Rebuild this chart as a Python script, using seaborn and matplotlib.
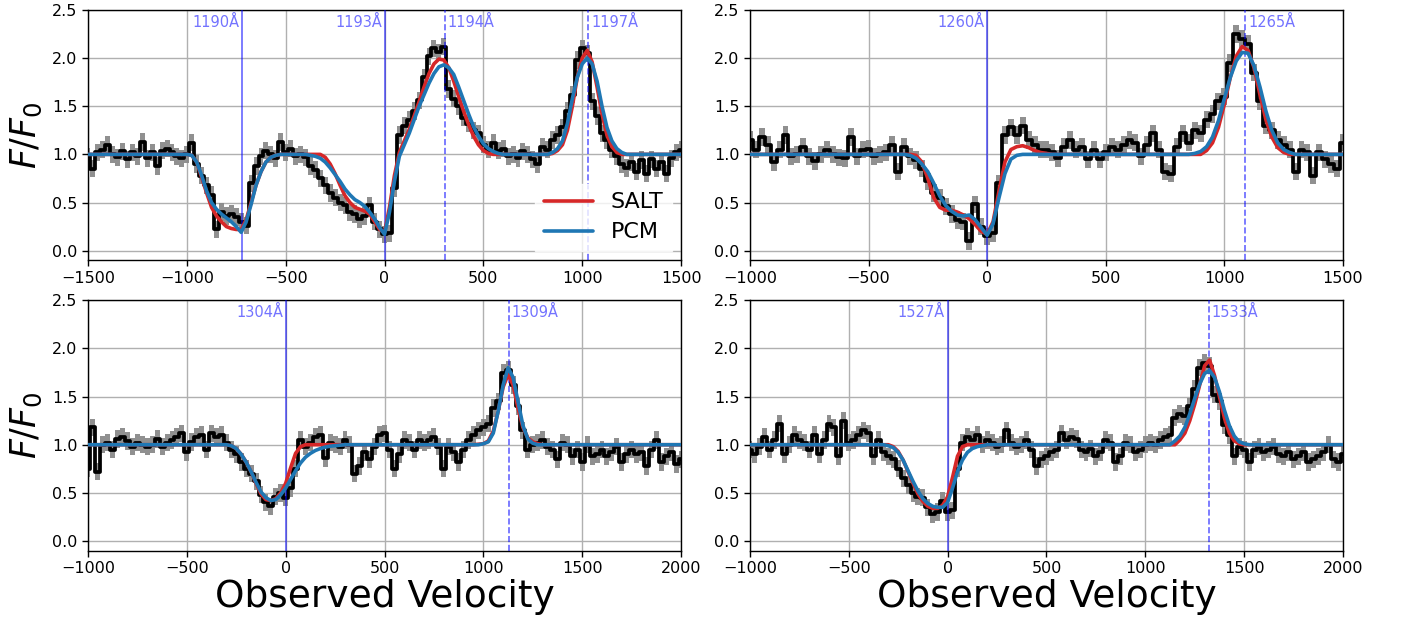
import numpy as np
import matplotlib
matplotlib.use("Agg")
import matplotlib.pyplot as plt
import seaborn as sns

# ---------------- data ----------------
BIN = 25  # km/s spacing of the spectral bins

# Top-left: Si II 1190/1193 (velocity grid starts at -1500)
tl_start = -1500
tl_flux = [0.98, 0.85, 1.02, 1.05, 1.10, 1.00, 0.97, 1.03, 0.95, 1.02,
           0.98, 1.13, 0.96, 1.02, 0.88, 1.04, 1.06, 1.02, 0.98, 0.96,
           1.00, 1.12, 0.90, 0.78, 0.68, 0.58, 0.22, 0.40, 0.36, 0.38,
           0.35, 0.30, 0.26, 0.70, 0.88, 0.98, 1.04, 1.00, 0.96, 1.13,
           1.02, 1.06, 0.98, 1.00, 0.97, 0.88, 0.84, 0.75, 0.68, 0.60,
           0.55, 0.50, 0.47, 0.40, 0.38, 0.33, 0.36, 0.47, 0.30, 0.22,
           0.17, 0.18, 0.65, 1.20, 1.30, 1.36, 1.45, 1.56, 1.80, 2.02,
           2.10, 2.06, 2.12, 1.68, 1.58, 1.50, 1.38, 1.32, 1.25, 1.22,
           1.10, 1.05, 1.12, 1.04, 1.06, 0.98, 1.00, 0.96, 1.03, 1.00,
           0.95, 0.90, 1.08, 1.05, 1.15, 1.20, 1.28, 1.45, 1.62, 1.98,
           2.10, 2.05, 1.55, 1.40, 1.22, 1.15, 1.05, 0.98, 0.90, 0.86,
           0.92, 0.82, 0.94, 0.80, 0.95, 0.85, 0.92, 0.80, 0.96, 1.02,
           1.05]
tl_err = 0.09
tl_salt = [(-1500, 1.0), (-1000, 1.0), (-975, 0.99), (-950, 0.92), (-925, 0.76),
           (-900, 0.60), (-875, 0.45), (-850, 0.36), (-825, 0.30), (-800, 0.25),
           (-775, 0.23), (-750, 0.22), (-725, 0.22), (-700, 0.32), (-675, 0.50),
           (-650, 0.68), (-625, 0.82), (-600, 0.92), (-575, 0.97), (-550, 0.99),
           (-525, 1.0), (-325, 1.0), (-300, 0.97), (-275, 0.90), (-250, 0.80),
           (-225, 0.68), (-200, 0.57), (-175, 0.50), (-150, 0.45), (-125, 0.43),
           (-100, 0.41), (-75, 0.38), (-50, 0.30), (-25, 0.22), (0, 0.19),
           (25, 0.45), (50, 0.78), (75, 1.02), (100, 1.14), (125, 1.26),
           (150, 1.40), (175, 1.55), (200, 1.70), (225, 1.84), (250, 1.94),
           (275, 1.99), (300, 1.98), (325, 1.90), (350, 1.76), (375, 1.60),
           (400, 1.45), (425, 1.31), (450, 1.19), (475, 1.10), (500, 1.04),
           (525, 1.01), (550, 1.0), (825, 1.0), (850, 1.01), (875, 1.04),
           (900, 1.10), (925, 1.25), (950, 1.50), (975, 1.80), (1000, 2.00),
           (1025, 2.08), (1050, 1.96), (1075, 1.70), (1100, 1.42), (1125, 1.20),
           (1150, 1.08), (1175, 1.02), (1200, 1.0), (1500, 1.0)]
tl_pcm = [(-1500, 1.0), (-1000, 1.0), (-975, 0.99), (-950, 0.92), (-925, 0.78),
          (-900, 0.62), (-875, 0.50), (-850, 0.43), (-825, 0.38), (-800, 0.34),
          (-775, 0.30), (-750, 0.25), (-725, 0.19), (-700, 0.30), (-675, 0.48),
          (-650, 0.68), (-625, 0.82), (-600, 0.92), (-575, 0.97), (-550, 0.99),
          (-525, 1.0), (-400, 1.0), (-375, 0.99), (-350, 0.98), (-325, 0.96),
          (-300, 0.92), (-275, 0.86), (-250, 0.79), (-225, 0.72), (-200, 0.64),
          (-175, 0.58), (-150, 0.53), (-125, 0.50), (-100, 0.46), (-75, 0.40),
          (-50, 0.33), (-25, 0.24), (0, 0.17), (25, 0.40), (50, 0.72),
          (75, 0.98), (100, 1.10), (125, 1.22), (150, 1.36), (175, 1.50),
          (200, 1.62), (225, 1.74), (250, 1.84), (275, 1.91), (300, 1.93),
          (325, 1.90), (350, 1.83), (375, 1.70), (400, 1.56), (425, 1.42),
          (450, 1.29), (475, 1.19), (500, 1.11), (525, 1.06), (550, 1.03),
          (575, 1.01), (600, 1.0), (825, 1.0), (850, 1.02), (875, 1.06),
          (900, 1.14), (925, 1.32), (950, 1.58), (975, 1.80), (1000, 1.94),
          (1025, 2.00), (1050, 1.94), (1075, 1.76), (1100, 1.50), (1125, 1.28),
          (1150, 1.14), (1175, 1.06), (1200, 1.02), (1225, 1.0), (1500, 1.0)]
tl_lines = [-722, 0, 304, 1031]
tl_labels = ["1190Å", "1193Å", "1194Å", "1197Å"]
tl_dashed = [False, False, True, True]

# Top-right: Si II 1260 (grid starts at -1000)
tr_start = -1000
tr_flux = [1.15, 1.05, 1.18, 1.10, 0.92, 1.05, 1.20, 0.98, 1.00, 1.08,
           0.98, 0.93, 1.00, 1.05, 1.00, 0.97, 0.96, 1.18, 0.98, 1.05,
           1.06, 0.98, 1.00, 1.02, 1.10, 0.82, 1.08, 0.98, 0.94, 0.85,
           0.72, 0.60, 0.55, 0.46, 0.38, 0.32, 0.30, 0.10, 0.48, 0.25,
           0.15, 0.18, 0.70, 1.20, 1.28, 1.20, 1.30, 1.15, 1.10, 1.05,
           1.05, 1.02, 0.96, 1.08, 1.15, 1.05, 1.08, 0.95, 1.05, 0.95,
           1.02, 1.08, 1.05, 1.10, 1.15, 1.12, 0.98, 1.10, 1.22, 1.05,
           0.82, 0.80, 1.08, 1.22, 1.12, 1.25, 1.22, 1.36, 1.42, 1.55,
           1.60, 1.95, 2.25, 2.20, 2.15, 1.85, 1.55, 1.30, 1.25, 1.15,
           1.10, 1.05, 0.82, 1.05, 1.02, 0.78, 1.02, 0.95, 0.90, 0.85,
           1.12]
tr_err = 0.09
tr_salt = [(-1000, 1.0), (-325, 1.0), (-300, 0.99), (-275, 0.92), (-250, 0.75),
           (-225, 0.55), (-200, 0.45), (-175, 0.42), (-150, 0.42), (-125, 0.40),
           (-100, 0.37), (-75, 0.33), (-50, 0.27), (-25, 0.20), (0, 0.17),
           (25, 0.30), (50, 0.62), (75, 0.92), (100, 1.05), (125, 1.08),
           (150, 1.09), (175, 1.07), (200, 1.04), (225, 1.02), (250, 1.01),
           (275, 1.0), (900, 1.0), (925, 1.04), (950, 1.12), (975, 1.28),
           (1000, 1.52), (1025, 1.80), (1050, 2.02), (1075, 2.12), (1100, 2.08),
           (1125, 1.90), (1150, 1.62), (1175, 1.36), (1200, 1.18), (1225, 1.07),
           (1250, 1.02), (1275, 1.0), (1500, 1.0)]
tr_pcm = [(-1000, 1.0), (-350, 1.0), (-325, 0.99), (-300, 0.96), (-275, 0.90),
          (-250, 0.82), (-225, 0.70), (-200, 0.57), (-175, 0.47), (-150, 0.41),
          (-125, 0.37), (-100, 0.36), (-75, 0.37), (-50, 0.32), (-25, 0.24),
          (0, 0.16), (25, 0.28), (50, 0.55), (75, 0.80), (100, 0.95),
          (125, 0.99), (150, 1.0), (850, 1.0), (875, 1.01), (900, 1.03),
          (925, 1.08), (950, 1.18), (975, 1.35), (1000, 1.58), (1025, 1.80),
          (1050, 1.97), (1075, 2.06), (1100, 2.05), (1125, 1.92), (1150, 1.70),
          (1175, 1.45), (1200, 1.25), (1225, 1.12), (1250, 1.05), (1275, 1.02),
          (1300, 1.0), (1500, 1.0)]
tr_lines = [0, 1089]
tr_labels = ["1260Å", "1265Å"]
tr_dashed = [False, True]

# Bottom-left: Si II 1304 (grid starts at -1000)
bl_start = -1000
bl_flux = [0.75, 1.18, 0.72, 1.00, 1.02, 0.95, 1.06, 1.08, 1.04, 0.98,
           1.02, 1.00, 0.98, 1.00, 1.06, 0.98, 1.02, 1.05, 1.08, 1.12,
           0.92, 1.03, 1.08, 1.10, 0.95, 1.12, 1.08, 1.10, 1.02, 0.95,
           0.90, 0.82, 0.75, 0.70, 0.62, 0.48, 0.40, 0.36, 0.46, 0.50,
           0.45, 0.55, 0.75, 1.05, 0.98, 1.02, 1.08, 1.10, 0.86, 1.02,
           1.00, 0.98, 1.05, 1.00, 0.70, 0.78, 0.92, 0.85, 0.98, 1.10,
           1.12, 0.95, 0.75, 0.90, 1.05, 1.02, 0.95, 1.05, 1.02, 1.05,
           1.08, 0.98, 0.75, 0.98, 0.92, 0.82, 0.95, 1.05, 1.10, 1.15,
           1.18, 1.22, 1.38, 1.45, 1.75, 1.78, 1.62, 1.40, 1.15, 0.95,
           1.00, 1.02, 1.05, 0.98, 0.95, 0.85, 1.02, 1.00, 0.88, 0.95,
           0.82, 1.00, 0.88, 0.90, 0.95, 0.88, 0.92, 0.98, 0.82, 0.90,
           0.95, 0.90, 0.92, 0.78, 0.95, 1.05, 0.82, 0.88, 0.92, 0.80,
           0.85]
bl_err = 0.09
bl_salt = [(-1000, 1.0), (-300, 1.0), (-275, 0.99), (-250, 0.96), (-225, 0.90),
           (-200, 0.82), (-175, 0.72), (-150, 0.60), (-125, 0.49), (-100, 0.43),
           (-75, 0.42), (-50, 0.44), (-25, 0.50), (0, 0.60), (25, 0.76),
           (50, 0.91), (75, 0.98), (100, 1.0), (950, 1.0), (975, 1.005),
           (1000, 1.01), (1025, 1.04), (1050, 1.14), (1075, 1.35), (1100, 1.60),
           (1125, 1.73), (1150, 1.62), (1175, 1.38), (1200, 1.18), (1225, 1.07),
           (1250, 1.03), (1275, 1.01), (1300, 1.0), (2000, 1.0)]
bl_pcm = [(-1000, 1.0), (-300, 1.0), (-275, 0.99), (-250, 0.96), (-225, 0.90),
          (-200, 0.82), (-175, 0.72), (-150, 0.61), (-125, 0.51), (-100, 0.45),
          (-75, 0.42), (-50, 0.43), (-25, 0.48), (0, 0.55), (25, 0.64),
          (50, 0.73), (75, 0.81), (100, 0.87), (125, 0.91), (150, 0.94),
          (175, 0.96), (200, 0.975), (225, 0.985), (250, 0.99), (275, 0.995),
          (300, 1.0), (975, 1.0), (1000, 1.01), (1025, 1.03), (1050, 1.12),
          (1075, 1.35), (1100, 1.62), (1125, 1.80), (1150, 1.70), (1175, 1.45),
          (1200, 1.20), (1225, 1.06), (1250, 1.015), (1275, 1.0), (2000, 1.0)]
bl_lines = [0, 1128]
bl_labels = ["1304Å", "1309Å"]
bl_dashed = [False, True]

# Bottom-right: Si II 1527 (grid starts at -1000)
br_start = -1000
br_flux = [0.95, 0.90, 0.98, 1.08, 0.95, 1.05, 1.22, 0.90, 1.00, 1.10,
           1.05, 1.02, 0.95, 1.10, 0.90, 1.05, 1.22, 1.18, 0.88, 1.25,
           1.02, 1.05, 1.10, 1.15, 1.12, 0.88, 1.05, 0.92, 0.88, 0.85,
           0.75, 0.65, 0.58, 0.50, 0.46, 0.45, 0.35, 0.28, 0.30, 0.42,
           0.30, 0.32, 0.75, 1.02, 1.08, 1.05, 1.10, 1.00, 1.05, 1.02,
           0.98, 1.00, 1.15, 1.02, 0.98, 1.00, 1.05, 0.95, 0.78, 0.85,
           0.88, 0.92, 0.95, 1.12, 1.05, 1.08, 1.06, 0.95, 0.92, 0.96,
           0.88, 0.92, 1.05, 1.02, 0.82, 0.88, 1.02, 1.00, 0.92, 0.95,
           1.00, 1.02, 1.00, 1.05, 1.08, 1.10, 1.28, 1.32, 1.30, 1.40,
           1.58, 1.80, 1.85, 1.82, 1.52, 1.45, 1.20, 1.10, 0.88, 0.98,
           0.95, 0.82, 0.95, 0.98, 0.92, 0.95, 0.98, 0.90, 0.88, 0.92,
           0.85, 0.88, 0.92, 0.82, 0.85, 0.88, 0.92, 1.00, 0.85, 0.82,
           0.90]
br_err = 0.09
br_salt = [(-1000, 1.0), (-300, 1.0), (-275, 0.98), (-250, 0.93), (-225, 0.84),
           (-200, 0.72), (-175, 0.60), (-150, 0.49), (-125, 0.41), (-100, 0.36),
           (-75, 0.34), (-50, 0.34), (-25, 0.37), (0, 0.46), (25, 0.66),
           (50, 0.88), (75, 0.98), (100, 1.0), (1150, 1.0), (1175, 1.05),
           (1200, 1.12), (1225, 1.25), (1250, 1.42), (1275, 1.62), (1300, 1.82),
           (1325, 1.88), (1350, 1.72), (1375, 1.50), (1400, 1.28), (1425, 1.12),
           (1450, 1.04), (1475, 1.01), (1500, 1.0), (2000, 1.0)]
br_pcm = [(-1000, 1.0), (-325, 1.0), (-300, 0.99), (-275, 0.97), (-250, 0.92),
          (-225, 0.84), (-200, 0.73), (-175, 0.62), (-150, 0.52), (-125, 0.44),
          (-100, 0.39), (-75, 0.36), (-50, 0.35), (-25, 0.35), (0, 0.40),
          (25, 0.55), (50, 0.72), (75, 0.84), (100, 0.92), (125, 0.96),
          (150, 0.98), (175, 0.99), (200, 1.0), (1125, 1.0), (1150, 1.04),
          (1175, 1.09), (1200, 1.18), (1225, 1.32), (1250, 1.48), (1275, 1.63),
          (1300, 1.74), (1325, 1.77), (1350, 1.70), (1375, 1.55), (1400, 1.36),
          (1425, 1.20), (1450, 1.09), (1475, 1.03), (1500, 1.01), (1525, 1.0),
          (2000, 1.0)]
br_lines = [0, 1320]
br_labels = ["1527Å", "1533Å"]
br_dashed = [False, True]

x_limits = [(-1500, 1500), (-1000, 1500), (-1000, 2000), (-1000, 2000)]
y_ticks = [0.0, 0.5, 1.0, 1.5, 2.0, 2.5]

# ---------------- styling ----------------
sns.set_style("ticks", {"axes.grid": True, "grid.color": "#b0b0b0",
                        "axes.edgecolor": "black", "xtick.color": "black",
                        "ytick.color": "black", "text.color": "black",
                        "axes.labelcolor": "black"})
plt.rcParams["font.family"] = ["DejaVu Sans"]
plt.rcParams["mathtext.fontset"] = "dejavusans"
plt.rcParams["axes.unicode_minus"] = True

SALT_C = "#d62728"
PCM_C = "#1f77b4"

fig, axes = plt.subplots(2, 2, figsize=(14.01, 6.24), dpi=100)
fig.subplots_adjust(left=0.0628, right=0.9586, top=0.984, bottom=0.1176,
                    wspace=0.116, hspace=0.16)

panels = [
    (tl_start, tl_flux, tl_err, tl_salt, tl_pcm, tl_lines, tl_labels, tl_dashed),
    (tr_start, tr_flux, tr_err, tr_salt, tr_pcm, tr_lines, tr_labels, tr_dashed),
    (bl_start, bl_flux, bl_err, bl_salt, bl_pcm, bl_lines, bl_labels, bl_dashed),
    (br_start, br_flux, br_err, br_salt, br_pcm, br_lines, br_labels, br_dashed),
]

for k, (ax, p) in enumerate(zip(axes.flat, panels)):
    start, flux, err, salt, pcm, lines, labels, dashed = p
    flux = np.asarray(flux)
    vel = start + BIN * np.arange(len(flux))
    ax.fill_between(vel, flux - err, flux + err, step="mid",
                    color="#8a8a8a", alpha=0.95, lw=0, zorder=2)
    sns.lineplot(x=vel, y=flux, ax=ax, color="black", lw=2.7,
                 drawstyle="steps-mid", estimator=None, sort=False, zorder=3)
    for lv, lab, dsh in zip(lines, labels, dashed):
        ax.axvline(lv, color="blue", alpha=0.6, lw=1.2,
                   ls="--" if dsh else "-", zorder=4)
        ax.annotate(lab, xy=(lv, 2.37), xytext=(2 if dsh else -2, 0),
                    textcoords="offset points", ha="left" if dsh else "right",
                    va="center", color="blue", alpha=0.55, fontsize=10.5,
                    zorder=6)
    sv, sf = zip(*salt)
    pv, pf = zip(*pcm)
    sns.lineplot(x=list(sv), y=list(sf), ax=ax, color=SALT_C, lw=2.6,
                 estimator=None, sort=False, zorder=5,
                 label="SALT" if k == 0 else None, legend=False)
    sns.lineplot(x=list(pv), y=list(pf), ax=ax, color=PCM_C, lw=2.6,
                 estimator=None, sort=False, zorder=5,
                 label="PCM" if k == 0 else None, legend=False)
    ax.set_xlim(*x_limits[k])
    ax.set_ylim(-0.1, 2.5)
    ax.set_yticks(y_ticks)
    ax.set_xticks(np.arange(x_limits[k][0], x_limits[k][1] + 1, 500))
    ax.grid(True, color="#b0b0b0", lw=1.0, zorder=0)
    ax.set_axisbelow(True)
    ax.tick_params(labelsize=11.5, direction="out", length=4, width=1)
    for s in ax.spines.values():
        s.set_visible(True)
        s.set_color("black")
        s.set_linewidth(1.0)
    ax.set_xlabel("")
    ax.set_ylabel("")
    if k % 2 == 0:
        ax.set_ylabel(r"$F/F_0$", fontsize=25, labelpad=6)
    if k >= 2:
        ax.set_xlabel("Observed Velocity", fontsize=27, labelpad=2)

leg = axes[0, 0].legend(loc="lower right", fontsize=16, handlelength=2.2,
                        frameon=True, fancybox=False, framealpha=0.8,
                        edgecolor="white", borderaxespad=0.4,
                        labelspacing=0.45)
leg.set_zorder(10)

fig.savefig("out.png", dpi=100)
